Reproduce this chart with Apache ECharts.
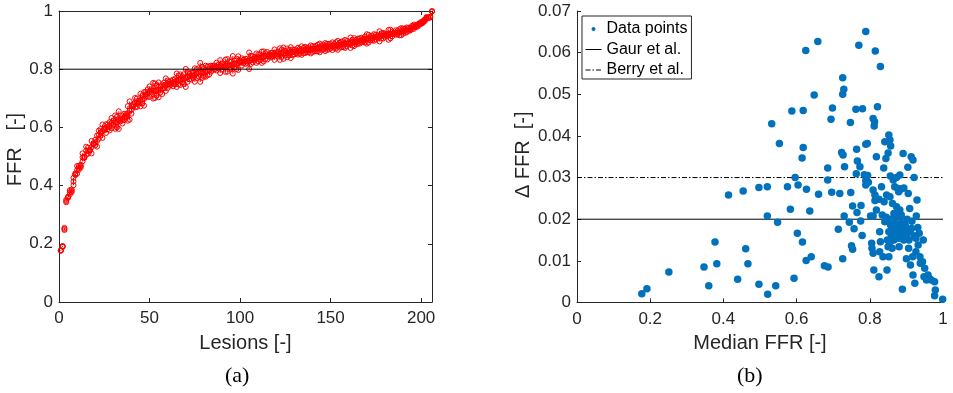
<!DOCTYPE html>
<html>
<head>
<meta charset="utf-8">
<script src="https://cdn.jsdelivr.net/npm/echarts@6/dist/echarts.min.js"></script>
<style>
  html, body { margin: 0; padding: 0; background: #ffffff; }
  #chart { width: 953px; height: 393px; }
</style>
</head>
<body>
<div id="chart"></div>
<script>
// Per-lesion median FFR and its spread (delta FFR), one entry per lesion.
const medianFFR = [
  0.177, 0.191, 0.251, 0.347, 0.360, 0.377, 0.382, 0.414,
  0.454, 0.439, 0.461, 0.467, 0.497, 0.520, 0.497, 0.520, 0.521, 0.543,
  0.548, 0.575, 0.583, 0.593, 0.602, 0.604, 0.616, 0.627, 0.626, 0.636,
  0.640, 0.660, 0.676, 0.686, 0.696, 0.714, 0.718, 0.726, 0.730, 0.744,
  0.748, 0.750, 0.753, 0.753, 0.757, 0.765, 0.776, 0.775, 0.779, 0.789,
  0.802, 0.805, 0.806, 0.809, 0.809, 0.811, 0.814, 0.818, 0.825, 0.827,
  0.829, 0.827, 0.832, 0.834, 0.836, 0.839, 0.841, 0.846, 0.847, 0.850,
  0.852, 0.852, 0.855, 0.857, 0.859, 0.862, 0.862, 0.866, 0.867, 0.868,
  0.871, 0.873, 0.876, 0.877, 0.879, 0.880, 0.882, 0.885, 0.889, 0.896,
  0.900, 0.900, 0.905, 0.907, 0.909, 0.911, 0.914, 0.917, 0.918, 0.923,
  0.926, 0.927, 0.929, 0.932, 0.935, 0.937, 0.938, 0.944, 0.946, 0.950,
  0.948, 0.955, 0.959, 0.962, 0.968, 0.977, 0.979, 0.977, 0.999,
  0.789, 0.658, 0.625, 0.770, 0.815, 0.829, 0.726, 0.729, 0.726, 0.648,
  0.587, 0.618, 0.698, 0.762, 0.780, 0.821, 0.694, 0.747, 0.809, 0.813,
  0.812, 0.532, 0.553, 0.618, 0.615, 0.723, 0.727, 0.764, 0.789, 0.793,
  0.818, 0.841, 0.852, 0.855, 0.857, 0.850, 0.844, 0.891, 0.913, 0.918,
  0.766, 0.773, 0.838, 0.904, 0.685, 0.731, 0.763, 0.785, 0.794, 0.796,
  0.685, 0.596, 0.856, 0.882, 0.864, 0.921,
  0.789, 0.873, 0.825, 0.814, 0.876, 0.879, 0.887, 0.893, 0.809,
  0.845, 0.848, 0.855, 0.858, 0.861, 0.864, 0.866, 0.869, 0.870, 0.874,
  0.877, 0.883, 0.886, 0.888, 0.891, 0.893, 0.897, 0.902, 0.906, 0.910,
  0.915, 0.921, 0.926, 0.931
];
const deltaFFR = [
  0.0021, 0.0033, 0.0073, 0.0085, 0.0040, 0.0145, 0.0093, 0.0258,
  0.0268, 0.0056, 0.0129, 0.0093, 0.0276, 0.0278, 0.0044, 0.0208, 0.0020, 0.0040,
  0.0193, 0.0278, 0.0224, 0.0058, 0.0166, 0.0282, 0.0145, 0.0272, 0.0101, 0.0220,
  0.0110, 0.0260, 0.0088, 0.0085, 0.0265, 0.0176, 0.0262, 0.0105, 0.0208, 0.0193,
  0.0264, 0.0136, 0.0128, 0.0232, 0.0177, 0.0216, 0.0233, 0.0196, 0.0161, 0.0282,
  0.0208, 0.0142, 0.0130, 0.0270, 0.0118, 0.0078, 0.0258, 0.0222, 0.0062, 0.0122,
  0.0146, 0.0170, 0.0278, 0.0210, 0.0110, 0.0242, 0.0194, 0.0258, 0.0078, 0.0134,
  0.0110, 0.0170, 0.0254, 0.0186, 0.0162, 0.0238, 0.0178, 0.0214, 0.0166, 0.0278,
  0.0190, 0.0230, 0.0174, 0.0206, 0.0154, 0.0134, 0.0222, 0.0190, 0.0032, 0.0174,
  0.0162, 0.0105, 0.0262, 0.0150, 0.0226, 0.0090, 0.0178, 0.0110, 0.0066, 0.0046,
  0.0154, 0.0208, 0.0246, 0.0138, 0.0166, 0.0110, 0.0094, 0.0098, 0.0150, 0.0082,
  0.0062, 0.0054, 0.0066, 0.0058, 0.0054, 0.0050, 0.0030, 0.0016, 0.0008,
  0.0651, 0.0627, 0.0605, 0.0618, 0.0604, 0.0567, 0.0540, 0.0512, 0.0500, 0.0498,
  0.0460, 0.0461, 0.0467, 0.0464, 0.0465, 0.0470, 0.0440, 0.0432, 0.0442, 0.0434,
  0.0424, 0.0429, 0.0382, 0.0372, 0.0347, 0.0360, 0.0354, 0.0368, 0.0380, 0.0382,
  0.0350, 0.0386, 0.0402, 0.0390, 0.0376, 0.0359, 0.0346, 0.0358, 0.0350, 0.0342,
  0.0340, 0.0326, 0.0323, 0.0325, 0.0323, 0.0326, 0.0309, 0.0307, 0.0305, 0.0289,
  0.0294, 0.0300, 0.0304, 0.0306, 0.0294, 0.0300,
  0.0293, 0.0300, 0.0248, 0.0245, 0.0274, 0.0266, 0.0273, 0.0275, 0.0208,
  0.0205, 0.0150, 0.0145, 0.0200, 0.0130, 0.0185, 0.0150, 0.0205, 0.0170, 0.0158,
  0.0185, 0.0165, 0.0210, 0.0178, 0.0195, 0.0150, 0.0185, 0.0200, 0.0130, 0.0170,
  0.0195, 0.0160, 0.0122, 0.0180
];

// Reference thresholds
const ffrCutoff = 0.8;
const gaurLimit = 0.02;
const berryLimit = 0.03;

// Axis ranges and tick steps
const lesionAxis = { min: 0, max: 206, step: 50 };
const ffrAxis = { min: 0, max: 1, step: 0.2 };
const medianAxis = { min: 0, max: 1, step: 0.2 };
const deltaAxis = { min: 0, max: 0.07, step: 0.01 };

// Lesions ordered by median FFR; each gets a bar spanning its delta
const order = medianFFR.map((_, i) => i).sort((a, b) => medianFFR[a] - medianFFR[b]);
const lesionRanges = order.map((i, k) => [k + 1, medianFFR[i] - deltaFFR[i] / 2, medianFFR[i] + deltaFFR[i] / 2]);
const lesionMarks = [];
order.forEach((i, k) => {
  lesionMarks.push([k + 1, medianFFR[i] - deltaFFR[i] / 2]);
  lesionMarks.push([k + 1, medianFFR[i]]);
  lesionMarks.push([k + 1, medianFFR[i] + deltaFFR[i] / 2]);
});
const scatterPoints = medianFFR.map((m, i) => [m, deltaFFR[i]]);

const AX = '#262626';
const FONT = 'Liberation Sans';
const tickLabel = { fontFamily: FONT, fontSize: 17, color: AX };
const axisName = { fontFamily: FONT, fontSize: 20, color: AX };

function baseAxis(extra) {
  return Object.assign({
    type: 'value',
    axisLine: { show: true, onZero: false, lineStyle: { color: AX, width: 1 } },
    axisTick: { show: true, inside: true, length: 4, lineStyle: { color: AX, width: 1 } },
    splitLine: { show: false },
  }, extra);
}

const chart = echarts.init(document.getElementById('chart'));
chart.setOption({
  animation: false,
  backgroundColor: '#ffffff',
  title: [
    { text: '(a)', left: 225, top: 365, padding: 0,
      textStyle: { fontFamily: 'Liberation Serif', fontSize: 22, fontWeight: 'normal', color: '#000' } },
    { text: '(b)', left: 737, top: 365, padding: 0,
      textStyle: { fontFamily: 'Liberation Serif', fontSize: 22, fontWeight: 'normal', color: '#000' } }
  ],
  grid: [
    { left: 59, top: 11, width: 373, height: 291 },
    { left: 577, top: 11, width: 366, height: 291.5 }
  ],
  legend: {
    orient: 'vertical',
    left: 582, top: 16,
    padding: [5, 4, 1, 3],
    itemGap: 4.5,
    itemWidth: 16, itemHeight: 14,
    backgroundColor: '#ffffff',
    borderColor: AX, borderWidth: 1, borderRadius: 0,
    selectedMode: false,
    textStyle: { fontFamily: FONT, fontSize: 16, color: '#000' },
    lineStyle: { width: 1 },
    data: [
      { name: 'Data points', icon: 'path://M0,0M16,14M6,7a2,2 0 1,0 4,0a2,2 0 1,0 -4,0Z' },
      { name: 'Gaur et al.', itemStyle: { opacity: 0 } },
      { name: 'Berry et al.', itemStyle: { opacity: 0 } }
    ]
  },
  xAxis: [
    baseAxis({ gridIndex: 0, position: 'bottom', min: lesionAxis.min, max: lesionAxis.max, interval: lesionAxis.step,
      axisLabel: Object.assign({ margin: 8, showMaxLabel: false }, tickLabel),
      name: 'Lesions [-]', nameLocation: 'middle', nameGap: 31, nameTextStyle: axisName }),
    baseAxis({ gridIndex: 0, position: 'top', min: lesionAxis.min, max: lesionAxis.max, interval: lesionAxis.step,
      axisLabel: { show: false } }),
    baseAxis({ gridIndex: 1, position: 'bottom', min: medianAxis.min, max: medianAxis.max, interval: medianAxis.step,
      axisLabel: Object.assign({ margin: 8 }, tickLabel),
      name: 'Median FFR [-]', nameLocation: 'middle', nameGap: 31, nameTextStyle: axisName })
  ],
  yAxis: [
    baseAxis({ gridIndex: 0, position: 'left', min: ffrAxis.min, max: ffrAxis.max, interval: ffrAxis.step,
      axisLabel: Object.assign({ margin: 6 }, tickLabel),
      name: 'FFR   [-]', nameLocation: 'middle', nameGap: 33,
      nameTextStyle: Object.assign({ padding: [0, 0, 0, 14] }, axisName) }),
    baseAxis({ gridIndex: 0, position: 'right', min: ffrAxis.min, max: ffrAxis.max, interval: ffrAxis.step,
      axisLabel: { show: false } }),
    baseAxis({ gridIndex: 1, position: 'left', min: deltaAxis.min, max: deltaAxis.max, interval: deltaAxis.step,
      axisLabel: Object.assign({ margin: 6 }, tickLabel),
      name: '\u0394 FFR  [-]', nameLocation: 'middle', nameGap: 44,
      nameTextStyle: Object.assign({ padding: [0, 0, 0, 4] }, axisName) })
  ],
  series: [
    {
      type: 'custom', name: 'range', xAxisIndex: 0, yAxisIndex: 0, silent: true,
      data: lesionRanges,
      renderItem: function (params, api) {
        const p1 = api.coord([api.value(0), api.value(1)]);
        const p2 = api.coord([api.value(0), api.value(2)]);
        return { type: 'line', shape: { x1: p1[0], y1: p1[1], x2: p2[0], y2: p2[1] },
                 style: { stroke: '#ff0000', lineWidth: 1 } };
      }
    },
    {
      type: 'scatter', name: 'lesions', xAxisIndex: 0, yAxisIndex: 0, silent: true,
      data: lesionMarks, symbol: 'circle', symbolSize: 5,
      itemStyle: { color: 'rgba(255,0,0,0)', borderColor: '#ff0000', borderWidth: 1, opacity: 1 }
    },
    {
      type: 'line', name: 'cutoff', xAxisIndex: 0, yAxisIndex: 0, silent: true,
      data: [[lesionAxis.min, ffrCutoff], [lesionAxis.max, ffrCutoff]], symbol: 'none',
      lineStyle: { color: '#000', width: 1 }
    },
    {
      type: 'scatter', name: 'Data points', xAxisIndex: 2, yAxisIndex: 2,
      data: scatterPoints, symbol: 'circle', symbolSize: 7.5,
      itemStyle: { color: '#0072BD', opacity: 1 }
    },
    {
      type: 'line', name: 'Gaur et al.', xAxisIndex: 2, yAxisIndex: 2, silent: true,
      data: [[medianAxis.min, gaurLimit], [medianAxis.max, gaurLimit]], symbol: 'none',
      lineStyle: { color: '#000', width: 1 }, z: 1
    },
    {
      type: 'line', name: 'Berry et al.', xAxisIndex: 2, yAxisIndex: 2, silent: true,
      data: [[medianAxis.min, berryLimit], [medianAxis.max, berryLimit]], symbol: 'none',
      lineStyle: { color: '#000', width: 1, type: [5, 2, 1.5, 2] }, z: 1
    }
  ]
});
</script>
</body>
</html>
